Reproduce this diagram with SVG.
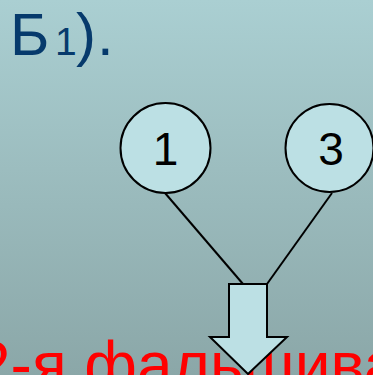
<svg xmlns="http://www.w3.org/2000/svg" width="373" height="375" viewBox="0 0 373 375">
<defs>
<linearGradient id="bg" x1="0" y1="0" x2="0" y2="1">
<stop offset="0" stop-color="#aacfd2"/>
<stop offset="1" stop-color="#8ba7a8"/>
</linearGradient>
<style>
.node{fill:#bce0e4;stroke:#000;stroke-width:2}
.lbl{font-family:"Liberation Sans",Arial,sans-serif;font-size:46px;fill:#000;text-anchor:middle}
.edge{stroke:#000;stroke-width:2;fill:none}
.title{font-family:"Liberation Sans",Arial,sans-serif;fill:#063a6c}
.red{font-family:"Liberation Sans",Arial,sans-serif;font-size:64px;fill:#ff0000}
</style>
</defs>
<rect width="373" height="375" fill="url(#bg)"/>
<text class="title" y="55"><tspan x="10" font-size="60">Б</tspan><tspan x="55" font-size="39">1</tspan><tspan x="76" font-size="60">)</tspan><tspan x="97" font-size="60">.</tspan></text>
<text class="red" x="-25" y="387">2-я фальшива</text>
<g id="connectors">
<line class="edge" x1="165" y1="193" x2="243" y2="284"/>
<line class="edge" x1="332" y1="193" x2="267" y2="284"/>
</g>
<g id="node1">
<circle class="node" cx="165.5" cy="148" r="45"/>
<text class="lbl" x="165.5" y="165">1</text>
</g>
<g id="node3">
<circle class="node" cx="329.5" cy="148" r="44"/>
<text class="lbl" x="331" y="165">3</text>
</g>
<g id="arrow">
<polygon class="node" points="229,284 267,284 267,337 287,337 248,374 210,337 229,337"/>
</g>
</svg>
